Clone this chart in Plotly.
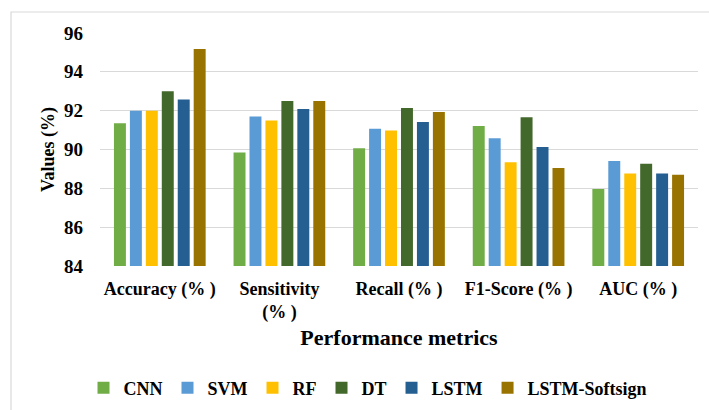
import plotly.graph_objects as go

# Performance metrics on the x axis
metrics = ["Accuracy (% )", "Sensitivity<br>(% )", "Recall (% )", "F1-Score (% )", "AUC (% )"]

# Scores (%) per model
cnn = [91.35, 89.84, 90.06, 91.21, 87.97]
svm = [92.00, 91.70, 91.07, 90.58, 89.41]
rf = [92.00, 91.50, 90.98, 89.34, 88.77]
dt = [93.00, 92.50, 92.14, 91.66, 89.27]
lstm = [92.58, 92.08, 91.42, 90.13, 88.77]
lstm_softsign = [95.17, 92.50, 91.93, 89.05, 88.70]

models = ["CNN", "SVM", "RF", "DT", "LSTM", "LSTM-Softsign"]
series = [cnn, svm, rf, dt, lstm, lstm_softsign]
colors = ["#70AD47", "#5B9BD5", "#FFC000", "#43682B", "#255E91", "#997300"]

y_ticks = [84, 86, 88, 90, 92, 94, 96]

FONT = "Times New Roman, Liberation Serif, serif"

fig = go.Figure()
for name, vals, col in zip(models, series, colors):
    fig.add_trace(go.Bar(name=name, x=metrics, y=vals, marker=dict(color=col, line=dict(width=0))))

W, H = 709, 410
L, R, T, B = 100, 11, 33, 144
pw, ph = W - L - R, H - T - B


def px_to_paper_x(px):
    return (px - L) / pw


def px_to_paper_y(py):
    return (H - B - py) / ph


fig.update_layout(
    width=W,
    height=H,
    margin=dict(l=L, r=R, t=T, b=B, autoexpand=False),
    paper_bgcolor="white",
    plot_bgcolor="white",
    barmode="group",
    bargap=0.2,
    bargroupgap=0.25,
    font=dict(family=FONT, color="#000000", size=18, weight="bold"),
    xaxis=dict(
        showgrid=False,
        showline=False,
        ticks="",
        ticklabelstandoff=10,
        tickfont=dict(family=FONT, size=18, weight="bold"),
        title=dict(text="Performance metrics", font=dict(family=FONT, size=22, weight="bold"), standoff=7),
        automargin=False,
    ),
    yaxis=dict(
        range=[84, 96],
        tickvals=y_ticks,
        showgrid=True,
        gridcolor="#D9D9D9",
        gridwidth=1.2,
        zeroline=False,
        showline=False,
        ticks="",
        ticklabelstandoff=16,
        tickfont=dict(family=FONT, size=19, weight="bold"),
        title=dict(text="Values (%)", font=dict(family=FONT, size=18, weight="bold"), standoff=4),
        automargin=False,
    ),
    legend=dict(
        orientation="h",
        x=px_to_paper_x(368),
        xanchor="center",
        y=px_to_paper_y(388),
        yanchor="middle",
        font=dict(family=FONT, size=18, weight="bold"),
        bgcolor="rgba(0,0,0,0)",
        traceorder="normal",
        itemwidth=30,
    ),
    showlegend=True,
)

# Chart-area frame (left and top edges visible)
fig.add_shape(
    type="rect",
    xref="paper",
    yref="paper",
    x0=px_to_paper_x(11),
    x1=px_to_paper_x(730),
    y0=px_to_paper_y(430),
    y1=px_to_paper_y(12),
    line=dict(color="#D9D9D9", width=1.2),
    fillcolor="rgba(0,0,0,0)",
    layer="below",
)

fig.write_html("out.html")
